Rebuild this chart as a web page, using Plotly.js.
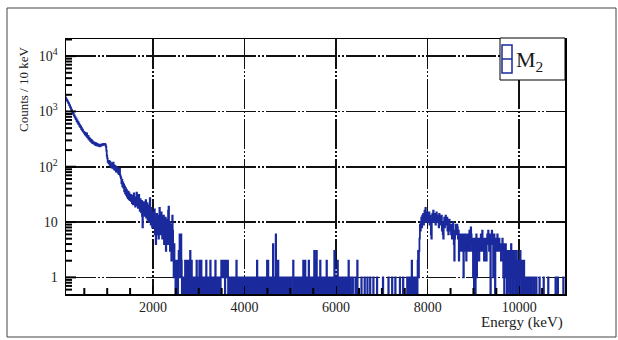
<!DOCTYPE html>
<html>
<head>
<meta charset="utf-8">
<script src="https://cdn.plot.ly/plotly-3.0.1.min.js"></script>
<style>html,body{margin:0;padding:0;background:#fff;}#chart{width:618px;height:340px;}</style>
</head>
<body>
<div id="chart"></div>
<script>
// Histogram: counts per 10 keV bin, bins start at 0 keV
const binWidth = 10;
const countsLow = [ // 0 - 2490 keV
2400,2300,2250,2150,2100,2000,1950,1900,1820,1760, 1700,1610,1600,1520,1500,1410,1400,1300,1280,1190, 1170,1080,1080,990,985,905,910,840,850,780, 790,730,740,670,690,630,645,590,605,550, 565,520,535,485,500,455,470,435,430,410,
420,385,410,365,385,400,345,340,362,320, 335,305,322,290,310,282,298,270,288,266, 272,276,258,270,246,266,252,244,258,240, 252,238,250,234,252,238,240,244,254,246, 256,250,258,252,255,260,248,232,196,158,
142,122,126,116,128,108,122,102,116,98, 110,96,112,118,92,106,88,104,96,82, 98,86,94,78,90,74,86,92,70,66, 62,50,58,44,52,42,48,36,44,33, 41,31,38,29,36,27,35,26,33,25,
27,31,24,29,22,30,21,27,33,21, 26,19,28,23,34,20,27,18,25,31, 20,16,26,19,15,24,13,8,20,23, 15,21,13,19,25,12,18,22,11,15, 20,10,16,27,12,9,18,13,8,11,
15,8,12,17,6,11,4,10,14,6, 9,13,5,10,18,7,12,6,15,8, 5,11,7,13,4,9,6,12,3,8, 5,11,4,16,19,6,10,3,6,9, 2,5,13,7,3,1,4,1,2,0
];
const countsMid = [ // 2500 - 7490 keV
2,0,1,2,0,1,3,2,6,5, 1,6,2,0,1,0,1,0,1,0, 2,1,0,2,0,1,0,2,1,0, 1,3,0,1,2,0,1,0,1,0, 1,0,1,0,1,2,0,1,0,1,
0,2,0,1,0,2,1,0,1,0, 1,0,1,0,1,0,2,0,1,0, 1,0,1,0,1,2,0,1,0,1, 0,1,0,1,0,1,2,0,1,0, 1,0,1,0,1,0,1,0,1,2,
2,1,2,2,1,2,2,0,2,1, 2,2,1,2,0,1,0,0,1,0, 0,1,0,0,0,1,0,0,1,0, 0,0,2,0,1,0,0,0,1,0, 0,0,1,0,0,0,1,0,1,0,
1,0,1,0,1,0,1,0,1,0, 1,0,1,0,1,0,1,0,1,0, 1,0,1,0,1,0,1,2,0,1, 0,1,0,1,0,0,1,0,1,0, 1,0,1,0,1,0,1,0,1,2,
0,2,1,0,1,0,1,0,0,1, 0,1,4,0,1,0,0,1,6,2, 0,1,0,2,0,1,0,0,1,0, 1,0,0,1,0,1,0,0,1,0, 1,0,0,0,1,0,0,1,0,0,
0,1,0,0,0,0,2,0,0,1, 0,0,0,1,0,0,0,1,0,1, 0,1,0,1,0,1,0,1,2,0, 1,0,2,1,0,1,0,1,0,1, 2,0,1,0,1,0,1,0,1,0,
1,0,3,0,1,0,2,3,0,1, 0,1,0,1,0,2,0,1,0,1, 0,1,0,1,0,1,0,1,0,2, 1,0,1,0,1,0,1,0,1,0, 1,0,1,0,1,0,3,1,0,1,
0,1,0,2,1,0,1,0,1,0, 1,0,1,0,1,0,1,0,1,0, 1,0,1,0,1,0,0,2,0,0, 0,1,0,0,0,0,1,0,0,0, 0,0,1,0,0,0,2,0,0,0,
0,0,0,0,0,1,0,0,0,0, 0,0,1,0,0,0,0,0,1,0, 0,0,0,0,1,0,0,0,0,0, 0,1,0,0,0,0,0,0,0,1, 0,0,0,0,0,0,0,0,0,0,
0,0,1,0,0,0,0,0,0,0, 0,0,0,0,1,0,0,0,0,0, 0,0,1,0,0,0,0,0,0,1, 0,0,0,0,0,0,0,0,0,1, 0,0,0,0,0,0,1,0,0,0
];
const countsHigh = [ // 7500 - 10990 keV
0,0,0,0,0,1,0,1,0,1, 0,1,0,1,0,2,1,0,1,0, 1,0,1,0,1,0,1,0,2,3, 1,3,5,9,7,10,12,8,13,11, 14,9,12,16,10,18,11,13,15,10,
12,14,11,15,9,13,10,6,5,11, 14,12,16,10,13,11,14,9,12,15, 10,13,11,12,8,14,11,9,12,10, 13,7,9,6,5,10,12,8,11,13, 9,11,12,7,10,6,9,11,7,8,
9,6,8,5,7,10,6,4,2,5, 7,9,8,6,9,8,5,7,2,4, 5,3,6,4,5,3,4,6,1,4, 5,3,6,4,2,5,4,6,3,5, 4,7,3,5,8,6,4,3,5,1,
4,0,5,3,0,4,6,1,4,3, 5,4,2,5,3,4,6,3,4,7, 4,3,5,2,4,3,5,4,2,5, 6,4,7,5,3,6,5,0,6,4, 7,5,6,1,5,6,4,0,5,3,
5,4,6,3,4,3,5,4,3,4, 2,4,3,5,3,1,4,0,3,2, 4,1,3,0,2,3,1,2,0,3, 2,0,4,1,2,3,0,2,1,3, 2,0,1,2,3,0,2,1,2,0,
2,1,3,2,0,2,1,2,0,1, 2,1,0,1,0,1,0,1,0,1, 0,1,0,1,0,1,0,1,0,0, 0,0,1,0,0,0,0,1,0,0, 0,0,0,0,1,0,0,0,0,0,
0,0,0,1,0,0,0,0,0,0, 0,0,0,1,0,0,0,0,0,0, 0,0,0,0,0,0,0,0,0,1, 0,0,0,0,1,0,0,0,0,0, 0,0,0,0,0,0,1,0,0,0
];
const xTickStep = 2000;
const xMinorVals = [500, 1000, 1500, 2500, 3000, 3500, 4500, 5000, 5500, 6500, 7000, 7500, 8500, 9000, 9500, 10500];
const yTickVals = [1, 10, 100, 1000, 10000];
const yTickText = ['1', '10', '10<sup>2</sup>', '10<sup>3</sup>', '10<sup>4</sup>'];
const legendLabel = 'M<sub>2</sub>';
const xTitle = 'Energy (keV)';
const yTitle = 'Counts / 10 keV';

const counts = countsLow.concat(countsMid, countsHigh);
// step outline; empty bins drop below the visible range like ROOT does
const floorVal = 0.05;
const xs = [], ys = [];
for (let i = 0; i < counts.length; i++) {
  xs.push(i * binWidth);
  ys.push(counts[i] > 0 ? counts[i] : floorVal);
}
xs.push(counts.length * binWidth);
ys.push(ys[ys.length - 1]);

// minor log tick positions (2..9 per decade)
const yMinor = [0.6, 0.7, 0.8, 0.9];
for (let d = 0; d <= 3; d++) for (let k = 2; k <= 9; k++) yMinor.push(k * Math.pow(10, d));
yMinor.push(20000);

const serif = '"Liberation Serif", serif';
const blue = '#1a2a9c';
const xRange = [100, 11000];
const yRange = [Math.log10(0.5), 4.31];
const toPaperY = v => (Math.log10(v) - yRange[0]) / (yRange[1] - yRange[0]);
const toPaperX = v => (v - xRange[0]) / (xRange[1] - xRange[0]);

const traces = [
  {x: xs, y: ys, type: 'scatter', mode: 'lines', line: {shape: 'hv', color: blue, width: 1.8}, showlegend: false, hoverinfo: 'skip'}
];

const tickShapes = yMinor.map(v => ({
  type: 'line', xref: 'paper', yref: 'paper', x0: 0, x1: 6 / 499, y0: toPaperY(v), y1: toPaperY(v),
  line: {color: '#000', width: 2}
})).concat(yTickVals.map(v => ({
  type: 'line', xref: 'paper', yref: 'paper', x0: 0, x1: 10 / 499, y0: toPaperY(v), y1: toPaperY(v),
  line: {color: '#000', width: 2}
}))).concat(xMinorVals.map(v => ({
  type: 'line', xref: 'paper', yref: 'paper', x0: toPaperX(v), x1: toPaperX(v), y0: 0, y1: 6 / 255,
  line: {color: '#000', width: 2}
})));

const gridDash = '30px,2px,2px,2px,2px,2px';
const layout = {
  width: 618, height: 340,
  margin: {l: 66, r: 53, t: 39, b: 46},
  paper_bgcolor: '#ffffff', plot_bgcolor: '#ffffff',
  showlegend: false,
  font: {family: serif},
  xaxis: {
    range: xRange, tickmode: 'linear', tick0: 0, dtick: xTickStep, tickformat: 'd',
    ticks: 'inside', ticklen: 8, tickcolor: '#000', tickwidth: 1,
    showgrid: true, gridcolor: '#111', gridwidth: 1.6, griddash: gridDash,
    showline: true, linecolor: '#000', linewidth: 1.5, mirror: true, zeroline: false,
    tickfont: {family: serif, size: 14, color: '#222'}
  },
  yaxis: {
    type: 'log', range: yRange, tickmode: 'array', tickvals: yTickVals, ticktext: yTickText,
    ticks: 'inside', ticklen: 9, tickcolor: '#000', tickwidth: 1,
    showgrid: true, gridcolor: '#111', gridwidth: 1.6, griddash: gridDash,
    showline: true, linecolor: '#000', linewidth: 1.5, mirror: true, zeroline: false,
    ticklabelstandoff: 4,
    tickfont: {family: serif, size: 14, color: '#222'}
  },
  shapes: [
    {type: 'rect', xref: 'paper', yref: 'paper', x0: (7 - 66) / 499, x1: (616 - 66) / 499, y0: -(337 - 294) / 255, y1: 1 + (39 - 8) / 255, line: {color: '#444', width: 1}, layer: 'below'},
    {type: 'rect', xref: 'paper', yref: 'paper', x0: (500 - 66) / 499, x1: 1, y0: 1 - (80 - 39) / 255, y1: 1 + 1 / 255, fillcolor: '#fff', line: {color: '#000', width: 1}},
    {type: 'rect', xref: 'paper', yref: 'paper', x0: (502 - 66) / 499, x1: (512 - 66) / 499, y0: 1 - (73 - 39) / 255, y1: 1 - (45 - 39) / 255, line: {color: blue, width: 1.5}},
    {type: 'line', xref: 'paper', yref: 'paper', x0: (502 - 66) / 499, x1: (512 - 66) / 499, y0: 1 - (59 - 39) / 255, y1: 1 - (59 - 39) / 255, line: {color: blue, width: 1.5}}
  ].concat(tickShapes),
  annotations: [
    {text: legendLabel, xref: 'paper', yref: 'paper', x: (514 - 66) / 499, y: 1 - (61 - 39) / 255, xanchor: 'left', yanchor: 'middle', showarrow: false, font: {family: serif, size: 22, color: '#1a1a1a'}},
    {text: xTitle, xref: 'paper', yref: 'paper', x: 1, y: -(322 - 294) / 255, xanchor: 'right', yanchor: 'middle', showarrow: false, font: {family: serif, size: 15, color: '#222'}},
    {text: yTitle, xref: 'paper', yref: 'paper', x: (24 - 66) / 499, y: 1 - (90 - 39) / 255, xanchor: 'center', yanchor: 'middle', textangle: -90, showarrow: false, font: {family: serif, size: 13, color: '#222'}}
  ]
};

Plotly.newPlot('chart', traces, layout, {staticPlot: true, displayModeBar: false});
</script>
</body>
</html>
